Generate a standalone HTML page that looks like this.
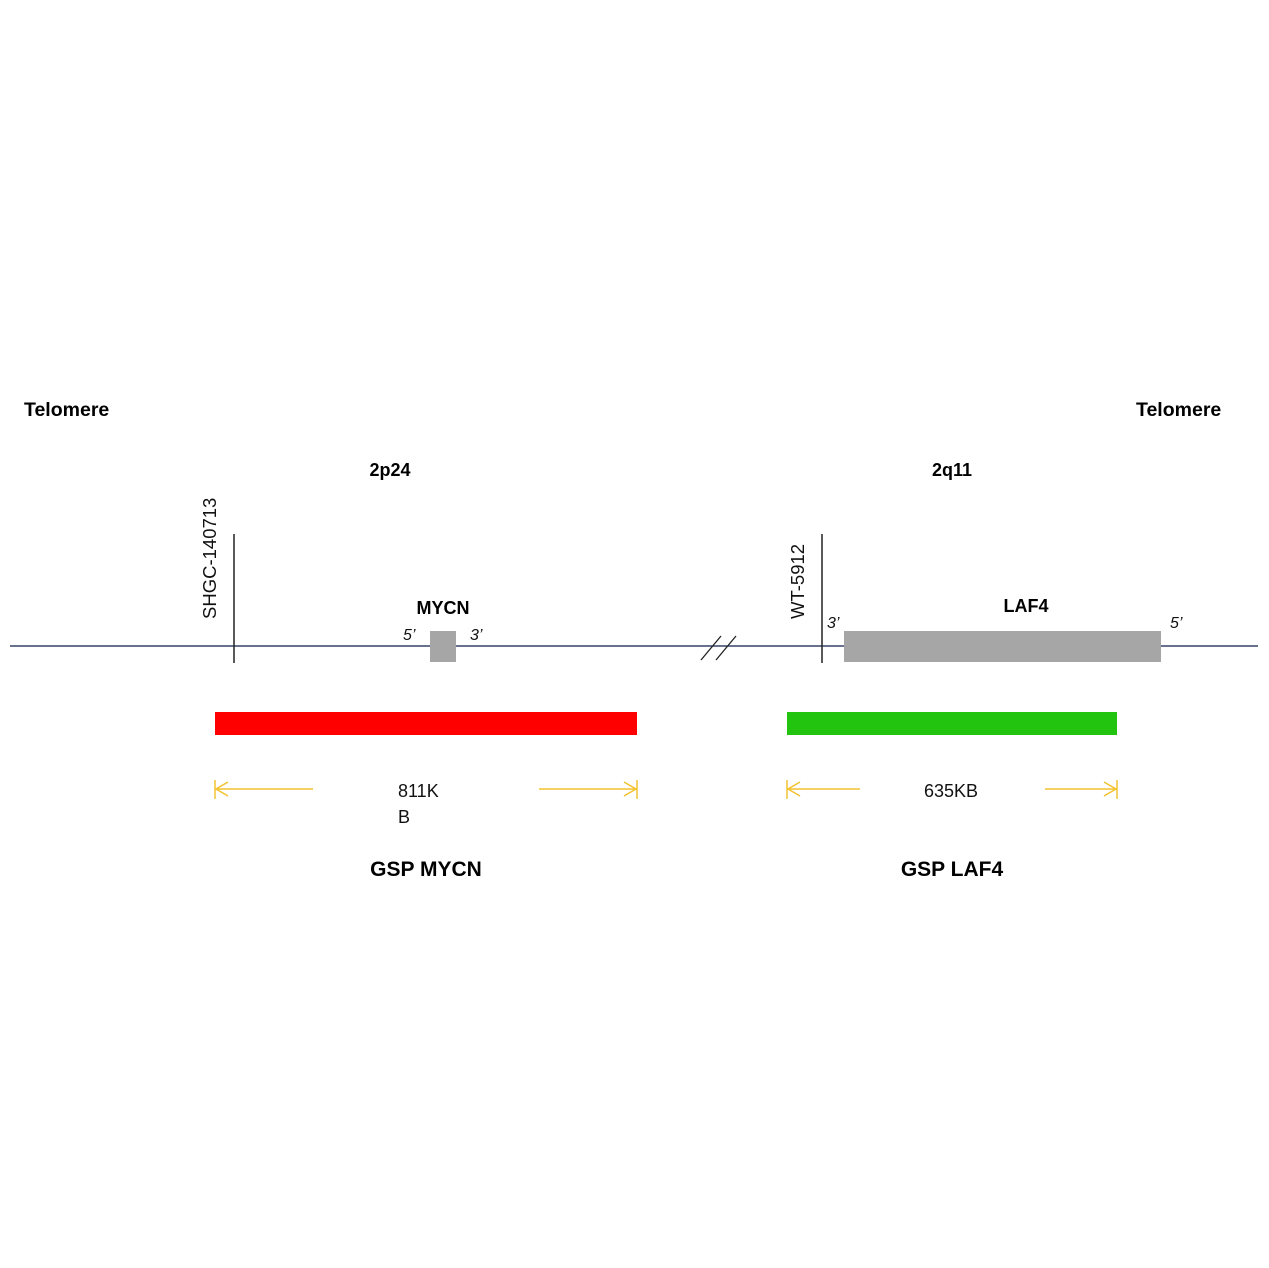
<!DOCTYPE html>
<html><head><meta charset="utf-8"><style>
html,body{margin:0;padding:0;background:#fff;}
svg{display:block;font-family:"Liberation Sans",sans-serif;}
</style></head><body>
<svg width="1269" height="1268" viewBox="0 0 1269 1268" xmlns="http://www.w3.org/2000/svg">
<rect width="1269" height="1268" fill="#fff"/>
<g font-weight="bold" font-size="18" fill="#000">
<text x="24" y="416" font-size="19.5">Telomere</text>
<text x="1136" y="416" font-size="19.5">Telomere</text>
<text x="390" y="476" text-anchor="middle">2p24</text>
<text x="952" y="476" text-anchor="middle">2q11</text>
<text x="443" y="614" text-anchor="middle">MYCN</text>
<text x="1026" y="612" text-anchor="middle">LAF4</text>
<text x="426" y="876" text-anchor="middle" font-size="21">GSP MYCN</text>
<text x="952" y="876" text-anchor="middle" font-size="21">GSP LAF4</text>
</g>
<line x1="10" y1="646" x2="1258" y2="646" stroke="#0f1e4a" stroke-width="1.3"/>
<line x1="234" y1="534" x2="234" y2="663" stroke="#222" stroke-width="1.5"/>
<line x1="822" y1="534" x2="822" y2="663" stroke="#222" stroke-width="1.5"/>
<text transform="translate(216,619) rotate(-90)" font-size="18.5" fill="#111">SHGC-140713</text>
<text transform="translate(804,619) rotate(-90)" font-size="18.5" fill="#111">WT-5912</text>
<line x1="701" y1="660" x2="721" y2="636" stroke="#222" stroke-width="1.3"/>
<line x1="716" y1="660" x2="736" y2="636" stroke="#222" stroke-width="1.3"/>
<rect x="430" y="631" width="26" height="31" fill="#a6a6a6"/>
<rect x="844" y="631" width="317" height="31" fill="#a6a6a6"/>
<g font-style="italic" font-size="16" fill="#111">
<text x="403" y="640">5’</text>
<text x="470" y="640">3’</text>
<text x="827" y="628">3’</text>
<text x="1170" y="628">5’</text>
</g>
<rect x="215" y="712" width="422" height="23" fill="#ff0000"/>
<rect x="787" y="712" width="330" height="23" fill="#22c40f"/>
<g stroke="#f2c230" stroke-width="1.5" fill="none">
<line x1="215" y1="789" x2="313" y2="789"/><line x1="215" y1="780" x2="215" y2="799"/><polyline points="228,782 216,789 228,796"/>
<line x1="539" y1="789" x2="637" y2="789"/><line x1="637" y1="780" x2="637" y2="799"/><polyline points="624,782 636,789 624,796"/>
<line x1="787" y1="789" x2="860" y2="789"/><line x1="787" y1="780" x2="787" y2="799"/><polyline points="800,782 788,789 800,796"/>
<line x1="1045" y1="789" x2="1117" y2="789"/><line x1="1117" y1="780" x2="1117" y2="799"/><polyline points="1104,782 1116,789 1104,796"/>
</g>
<g font-size="18" fill="#111">
<text x="398" y="797">811K</text>
<text x="398" y="823">B</text>
<text x="924" y="797">635KB</text>
</g>
</svg>
</body></html>
